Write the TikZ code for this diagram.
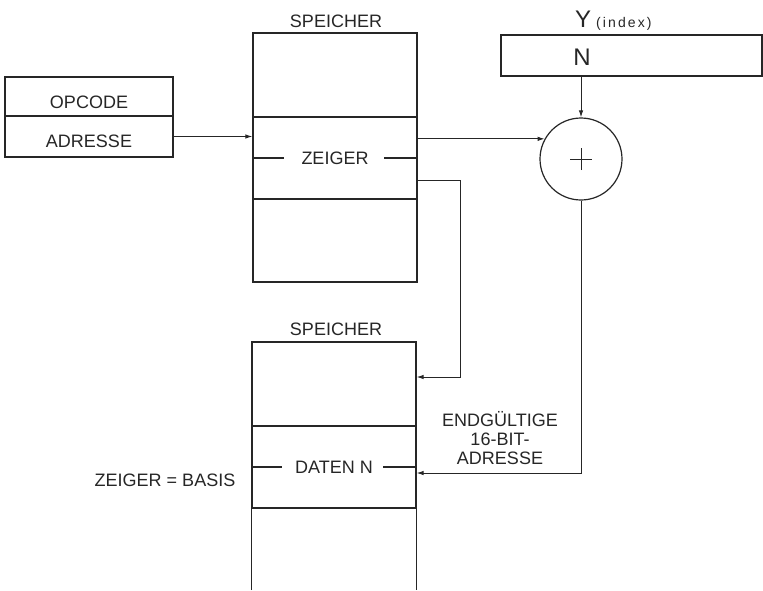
\documentclass[tikz,border=0pt]{standalone}
\usepackage{fontspec}
\setmainfont{Liberation Sans}
\usetikzlibrary{arrows.meta}
\begin{document}
\begin{tikzpicture}[x=1pt,y=-1pt,
  txt/.style={font=\fontsize{18}{19}\selectfont,inner sep=0pt,text=black!85},
  cell/.style={draw=black!85,line width=1.2pt,inner sep=0pt,minimum width=164pt,txt},
  conn/.style={draw=black!85,line width=1pt,-{Latex[length=7pt,width=4.5pt]}},
  dashln/.style={draw=black!85,line width=1.2pt}]
\useasboundingbox (0,0) rectangle (763,590);
% instruction
\node[cell,minimum width=168pt,minimum height=39pt] (opcode) at (89,96.5) {};
\node[cell,minimum width=168pt,minimum height=41pt] (adresse) at (89,136.5) {};
\node[txt] (topc) at (89,102) {OPCODE};
\node[txt] (tadr) at (89,141) {ADRESSE};
% upper memory
\node[txt] (sp1) at (336,21) {SPEICHER};
\node[cell,minimum height=84pt] (m1a) at (335,75) {};
\node[cell,minimum height=82pt] (m1b) at (335,158) {ZEIGER};
\node[cell,minimum height=83pt] (m1c) at (335,240.5) {};
\draw[dashln] (m1b.west) -- ++(32,0);
\draw[dashln] (m1b.east) -- ++(-34,0);
% lower memory
\node[txt] (sp2) at (336,329) {SPEICHER};
\node[cell,minimum height=84pt] (m2a) at (334,384) {};
\node[cell,minimum height=82pt] (m2b) at (334,467) {DATEN N};
\node[inner sep=0pt,minimum width=164pt,minimum height=82pt] (m2c) at (334,549) {};
\draw[dashln] (m2c.south west) -- (m2c.north west) -- (m2c.north east) -- (m2c.south east);
\draw[dashln] (m2b.west) -- ++(31,0);
\draw[dashln] (m2b.east) -- ++(-34,0);
% Y register
\node[draw=black!85,line width=1.2pt,minimum width=261pt,minimum height=41pt,inner sep=0pt] (ybox) at (631.5,55.5) {};
\node[font=\fontsize{24}{24}\selectfont,inner sep=0pt,text=black!85] (n) at (582,57) {N};
\node[anchor=base west,inner sep=0pt,text=black!85] (ylab) at (575,27) {\fontsize{24}{24}\selectfont Y\hspace{5pt}\fontsize{14}{14}\selectfont\addfontfeature{LetterSpace=15}(index)};
% adder
\node[circle,draw=black!85,line width=1.2pt,minimum size=82pt,inner sep=0pt] (plus) at (581,159) {};
\draw[black!85,line width=0.7pt] ([xshift=-11pt]plus.center) -- ([xshift=11pt]plus.center);
\draw[black!85,line width=0.7pt] ([yshift=-11pt]plus.center) -- ([yshift=11pt]plus.center);
% labels
\node[txt] (zb) at (165,480) {ZEIGER = BASIS};
\node[txt,align=center] (endg) at (500,438) {ENDGÜLTIGE\\16-BIT-\\ADRESSE};
% connectors
\draw[conn] (adresse.east) -- (adresse.east -| m1b.west);
\draw[conn] (plus.151 -| m1b.east) -- (plus.151);
\draw[conn] ([yshift=-22pt]m1b.east) -- ++(43,0) |- ([yshift=7pt]m2a.east);
\draw[conn] (ybox.south -| plus.north) -- (plus.north);
\draw[conn] (plus.south) |- ([yshift=-6pt]m2b.east);
\end{tikzpicture}
\end{document}
